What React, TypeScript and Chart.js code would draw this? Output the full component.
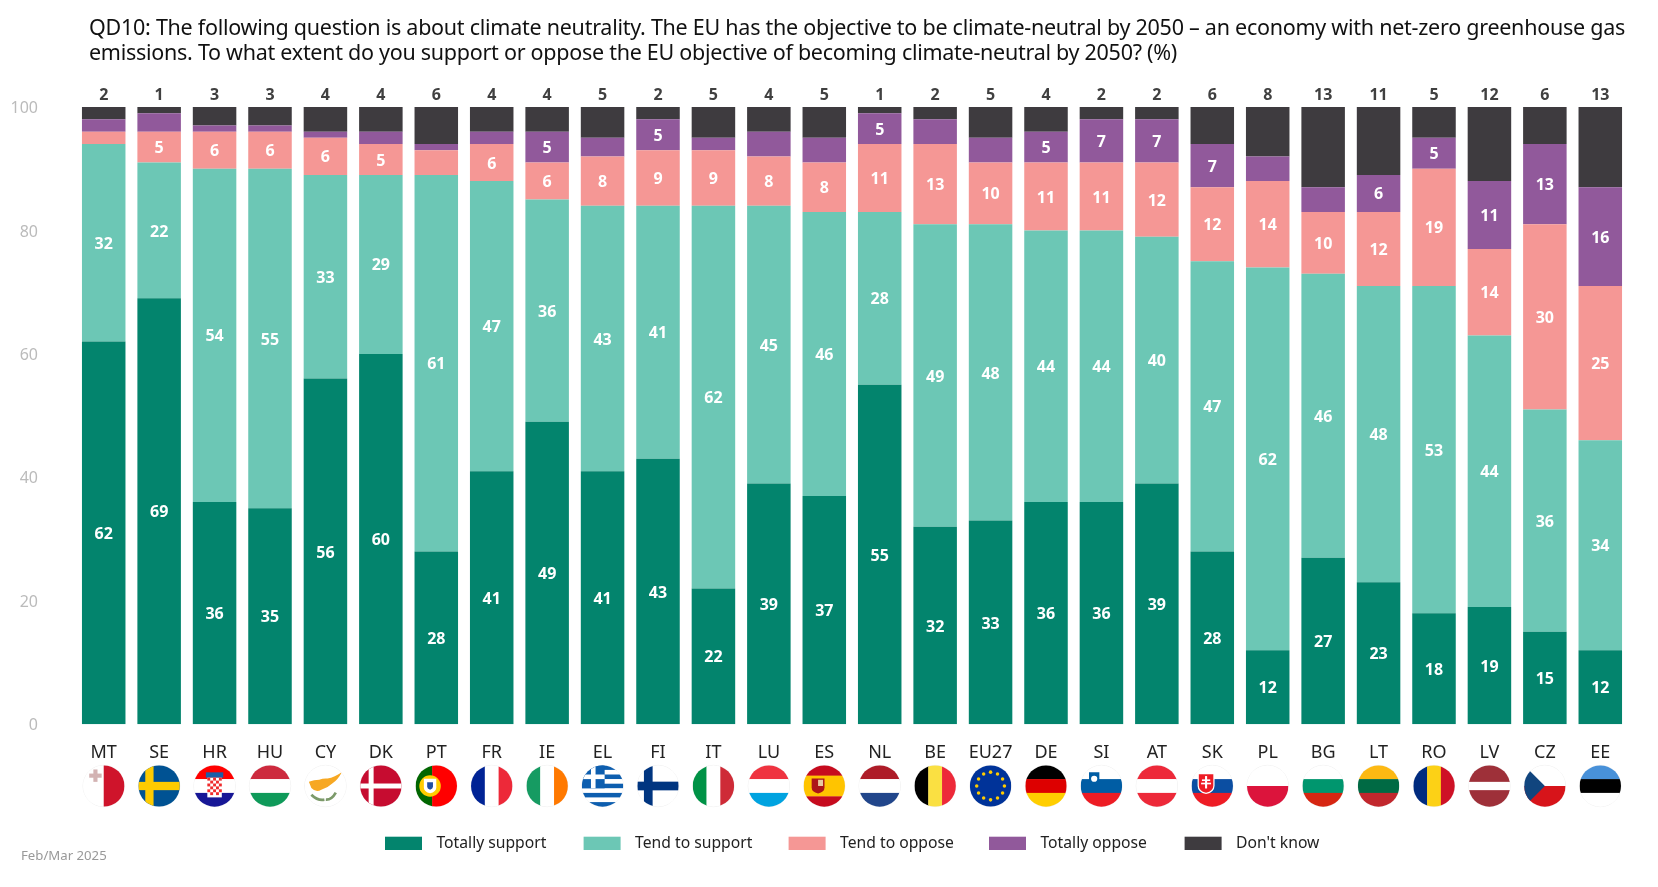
import React, { useEffect, useRef } from "react";
import { Chart, registerables } from "chart.js";

Chart.register(...registerables);

const countries = ["MT","SE","HR","HU","CY","DK","PT","FR","IE","EL","FI","IT","LU","ES","NL","BE","EU27","DE","SI","AT","SK","PL","BG","LT","RO","LV","CZ","EE"];
const totallySupport = [62,69,36,35,56,60,28,41,49,41,43,22,39,37,55,32,33,36,36,39,28,12,27,23,18,19,15,12];
const tendToSupport = [32,22,54,55,33,29,61,47,36,43,41,62,45,46,28,49,48,44,44,40,47,62,46,48,53,44,36,34];
const tendToOppose = [2,5,6,6,6,5,4,6,6,8,9,9,8,8,11,13,10,11,11,12,12,14,10,12,19,14,30,25];
const totallyOppose = [2,3,1,1,1,2,1,2,5,3,5,2,4,4,5,4,4,5,7,7,7,4,4,6,5,11,13,16];
const dontKnow = [2,1,3,3,4,4,6,4,4,5,2,5,4,5,1,2,5,4,2,2,6,8,13,11,5,12,6,13];
const seriesNames = ["Totally support","Tend to support","Tend to oppose","Totally oppose","Don't know"];
const seriesColors = ["#03846d","#6cc7b5","#f59795","#91599b","#3e3b3f"];
const yTicks = [0,20,40,60,80,100];
const titleLines = [
  "QD10: The following question is about climate neutrality. The EU has the objective to be climate-neutral by 2050 \u2013 an economy with net-zero greenhouse gas",
  "emissions. To what extent do you support or oppose the EU objective of becoming climate-neutral by 2050? (%)",
];
const footnote = "Feb/Mar 2025";
const legendSwatchLefts = [385, 583.6, 788.6, 989, 1184.6];

const FONT = '"Noto Sans"';

type Ctx = CanvasRenderingContext2D;

function hs(c: Ctx, x: number, y: number, r: number, colors: string[], weights?: number[]) {
  const w = weights || colors.map(() => 1);
  const total = w.reduce((a, b) => a + b, 0);
  let t = y - r;
  colors.forEach((col, i) => {
    const h = (2 * r * w[i]) / total;
    c.fillStyle = col;
    c.fillRect(x - r, t, 2 * r, h + 0.3);
    t += h;
  });
}
function vs(c: Ctx, x: number, y: number, r: number, colors: string[], weights?: number[]) {
  const w = weights || colors.map(() => 1);
  const total = w.reduce((a, b) => a + b, 0);
  let t = x - r;
  colors.forEach((col, i) => {
    const h = (2 * r * w[i]) / total;
    c.fillStyle = col;
    c.fillRect(t, y - r, h + 0.3, 2 * r);
    t += h;
  });
}
function nordic(c: Ctx, x: number, y: number, r: number, bg: string, cross: string, th: number) {
  c.fillStyle = bg;
  c.fillRect(x - r, y - r, 2 * r, 2 * r);
  c.fillStyle = cross;
  c.fillRect(x - r, y - th / 2, 2 * r, th);
  c.fillRect(x - r * 0.47 - th / 2, y - r, th, 2 * r);
}
function shield(c: Ctx, x: number, y: number, w: number, h: number, fill: string) {
  c.fillStyle = fill;
  c.beginPath();
  c.moveTo(x - w / 2, y - h / 2);
  c.lineTo(x + w / 2, y - h / 2);
  c.lineTo(x + w / 2, y + h * 0.1);
  c.quadraticCurveTo(x + w / 2, y + h * 0.4, x, y + h / 2);
  c.quadraticCurveTo(x - w / 2, y + h * 0.4, x - w / 2, y + h * 0.1);
  c.closePath();
  c.fill();
}

const flagPainters: Record<string, (c: Ctx, x: number, y: number, r: number) => void> = {
  MT(c, x, y, r) {
    vs(c, x, y, r, ["#ffffff", "#cf142b"]);
    c.fillStyle = "#d3b3b3";
    c.fillRect(x - r * 0.7, y - r * 0.6, r * 0.6, r * 0.2);
    c.fillRect(x - r * 0.5, y - r * 0.8, r * 0.2, r * 0.6);
  },
  SE(c, x, y, r) { nordic(c, x, y, r, "#005293", "#fecb00", r * 0.4); },
  HR(c, x, y, r) {
    hs(c, x, y, r, ["#ff0000", "#ffffff", "#171796"]);
    c.fillStyle = "#1a5ea8";
    c.fillRect(x - r * 0.42, y - r * 0.66, r * 0.84, r * 0.26);
    c.fillStyle = "#ffffff";
    c.fillRect(x - r * 0.35, y - r * 0.4, r * 0.7, r * 0.95);
    c.fillStyle = "#ef2b2d";
    const s = r * 0.14;
    for (let a = 0; a < 5; a++) for (let b = 0; b < 6; b++) {
      if ((a + b) % 2 === 0 && !(b === 5 && (a === 0 || a === 4))) c.fillRect(x - r * 0.35 + a * s, y - r * 0.4 + b * s, s, s);
    }
  },
  HU(c, x, y, r) { hs(c, x, y, r, ["#cd2a3e", "#ffffff", "#0f9a5a"]); },
  CY(c, x, y, r) {
    c.fillStyle = "#ffffff";
    c.fillRect(x - r, y - r, 2 * r, 2 * r);
    c.fillStyle = "#f7a823";
    c.beginPath();
    c.moveTo(x - r * 0.8, y - r * 0.2);
    c.quadraticCurveTo(x - r * 0.55, y - r * 0.3, x - r * 0.3, y - r * 0.3);
    c.quadraticCurveTo(x - r * 0.1, y - r * 0.38, x + r * 0.1, y - r * 0.36);
    c.quadraticCurveTo(x + r * 0.45, y - r * 0.42, x + r * 0.8, y - r * 0.68);
    c.quadraticCurveTo(x + r * 0.6, y - r * 0.3, x + r * 0.33, y - r * 0.12);
    c.quadraticCurveTo(x + r * 0.1, y + r * 0.1, x - r * 0.2, y + r * 0.18);
    c.quadraticCurveTo(x - r * 0.45, y + r * 0.34, x - r * 0.68, y + r * 0.1);
    c.closePath();
    c.fill();
    c.strokeStyle = "#7c9a6a";
    c.lineWidth = r * 0.13;
    c.beginPath();
    c.moveTo(x - r * 0.68, y + r * 0.42);
    c.quadraticCurveTo(x - r * 0.38, y + r * 0.72, x - r * 0.05, y + r * 0.66);
    c.moveTo(x + r * 0.5, y + r * 0.32);
    c.quadraticCurveTo(x + r * 0.3, y + r * 0.68, x + r * 0.02, y + r * 0.66);
    c.stroke();
  },
  DK(c, x, y, r) { nordic(c, x, y, r, "#c60c30", "#ffffff", r * 0.24); },
  PT(c, x, y, r) {
    vs(c, x, y, r, ["#006600", "#ff0000"], [4, 6]);
    c.fillStyle = "#ffcc00";
    c.beginPath(); c.arc(x - r * 0.3, y, r * 0.52, 0, Math.PI * 2); c.fill();
    shield(c, x - r * 0.3, y, r * 0.6, r * 0.7, "#ffffff");
    shield(c, x - r * 0.3, y, r * 0.28, r * 0.36, "#1f4ea1");
  },
  FR(c, x, y, r) { vs(c, x, y, r, ["#002395", "#ffffff", "#ed2939"]); },
  IE(c, x, y, r) { vs(c, x, y, r, ["#169b62", "#ffffff", "#ff7900"]); },
  EL(c, x, y, r) {
    hs(c, x, y, r, ["#0d5eaf", "#ffffff", "#0d5eaf", "#ffffff", "#0d5eaf", "#ffffff", "#0d5eaf", "#ffffff", "#0d5eaf"]);
    const t = 2 * r / 9;
    c.fillStyle = "#0d5eaf";
    c.fillRect(x - r, y - r, r * 1.1, t * 5);
    c.fillStyle = "#ffffff";
    c.fillRect(x - r, y - r + 2 * t, r * 1.1, t);
    c.fillRect(x - r + 0.55 * r - t / 2, y - r, t, t * 5);
  },
  FI(c, x, y, r) { nordic(c, x, y, r, "#ffffff", "#003580", r * 0.42); },
  IT(c, x, y, r) { vs(c, x, y, r, ["#009246", "#ffffff", "#ce2b37"]); },
  LU(c, x, y, r) { hs(c, x, y, r, ["#ef3340", "#ffffff", "#00a3e0"]); },
  ES(c, x, y, r) {
    hs(c, x, y, r, ["#c60b1e", "#ffc400", "#c60b1e"], [1, 2, 1]);
    shield(c, x - r * 0.3, y, r * 0.62, r * 0.72, "#ad1519");
    c.fillStyle = "#e8c9a0";
    c.fillRect(x - r * 0.3, y - r * 0.3, r * 0.24, r * 0.3);
  },
  NL(c, x, y, r) { hs(c, x, y, r, ["#ae1c28", "#ffffff", "#21468b"]); },
  BE(c, x, y, r) { vs(c, x, y, r, ["#000000", "#fae042", "#ed2939"]); },
  EU27(c, x, y, r) {
    c.fillStyle = "#003399";
    c.fillRect(x - r, y - r, 2 * r, 2 * r);
    c.fillStyle = "#ffcc00";
    for (let i = 0; i < 12; i++) {
      const a = (i * Math.PI) / 6;
      c.beginPath();
      c.arc(x + Math.cos(a) * r * 0.67, y + Math.sin(a) * r * 0.67, r * 0.085, 0, Math.PI * 2);
      c.fill();
    }
  },
  DE(c, x, y, r) { hs(c, x, y, r, ["#000000", "#dd0000", "#ffce00"]); },
  SI(c, x, y, r) {
    hs(c, x, y, r, ["#ffffff", "#005da4", "#ed1c24"]);
    shield(c, x - r * 0.35, y - r * 0.35, r * 0.5, r * 0.62, "#005da4");
    c.fillStyle = "#ffffff";
    c.beginPath(); c.arc(x - r * 0.35, y - r * 0.35, r * 0.15, 0, Math.PI * 2); c.fill();
  },
  AT(c, x, y, r) { hs(c, x, y, r, ["#ed2939", "#ffffff", "#ed2939"]); },
  SK(c, x, y, r) {
    hs(c, x, y, r, ["#ffffff", "#0b4ea2", "#ee1c25"]);
    shield(c, x - r * 0.3, y - r * 0.12, r * 0.82, r * 1.02, "#ffffff");
    shield(c, x - r * 0.3, y - r * 0.12, r * 0.7, r * 0.9, "#ee1c25");
    c.fillStyle = "#ffffff";
    c.fillRect(x - r * 0.35, y - r * 0.48, r * 0.1, r * 0.6);
    c.fillRect(x - r * 0.5, y - r * 0.32, r * 0.4, r * 0.08);
    c.fillRect(x - r * 0.54, y - r * 0.16, r * 0.48, r * 0.08);
  },
  PL(c, x, y, r) { hs(c, x, y, r, ["#ffffff", "#dc143c"]); },
  BG(c, x, y, r) { hs(c, x, y, r, ["#ffffff", "#00966e", "#d62612"]); },
  LT(c, x, y, r) { hs(c, x, y, r, ["#fdb913", "#006a44", "#c1272d"]); },
  RO(c, x, y, r) { vs(c, x, y, r, ["#002b7f", "#fcd116", "#ce1126"]); },
  LV(c, x, y, r) { hs(c, x, y, r, ["#9e3039", "#ffffff", "#9e3039"], [2, 1, 2]); },
  CZ(c, x, y, r) {
    hs(c, x, y, r, ["#ffffff", "#d7141a"]);
    c.fillStyle = "#11457e";
    c.beginPath();
    c.moveTo(x - r, y - r);
    c.lineTo(x, y);
    c.lineTo(x - r, y + r);
    c.closePath();
    c.fill();
  },
  EE(c, x, y, r) { hs(c, x, y, r, ["#4891d9", "#000000", "#ffffff"]); },
};

function fitText(c: any, text: string, x: number, y: number, width: number) {
  c.letterSpacing = "0px";
  const natural = c.measureText(text).width;
  c.letterSpacing = `${(width - natural) / text.length}px`;
  c.fillText(text, x, y);
  c.letterSpacing = "0px";
}

const annotationPlugin = {
  id: "annotations",
  afterDatasetsDraw(chart: any) {
    const c: Ctx = chart.ctx;
    c.save();
    c.textAlign = "center";
    c.textBaseline = "middle";
    c.font = `700 16px ${FONT}`;
    chart.data.datasets.forEach((ds: any, di: number) => {
      const meta = chart.getDatasetMeta(di);
      meta.data.forEach((bar: any, i: number) => {
        const v = ds.data[i];
        if (di === 4) {
          c.fillStyle = "#404040";
          c.fillText(String(v), bar.x, chart.chartArea.top - 11.5);
        } else if (v >= 5) {
          c.fillStyle = "#ffffff";
          c.fillText(String(v), bar.x, (bar.y + bar.base) / 2 + 1.5);
        }
      });
    });
    c.restore();
  },
  afterDraw(chart: any) {
    const c: Ctx = chart.ctx;
    const xs = chart.scales.x;
    const r = 20.7;
    const cy = 786;
    countries.forEach((code, i) => {
      const x = xs.getPixelForValue(i);
      c.save();
      c.beginPath();
      c.arc(x, cy, r, 0, Math.PI * 2);
      c.strokeStyle = "#f1f1f1";
      c.lineWidth = 1;
      c.stroke();
      c.clip();
      flagPainters[code](c, x, cy, r);
      c.restore();
    });
    c.save();
    c.textBaseline = "middle";
    c.textAlign = "left";
    c.fillStyle = "#111111";
    c.font = `21.5px ${FONT}`;
    fitText(c, titleLines[0], 89, 28.8, 1536);
    fitText(c, titleLines[1], 89, 53.8, 1088);
    c.font = `15.7px ${FONT}`;
    seriesNames.forEach((name, i) => {
      const lx = legendSwatchLefts[i];
      c.fillStyle = seriesColors[i];
      c.fillRect(lx, 836.7, 37, 13.3);
      c.fillStyle = "#222222";
      c.fillText(name, lx + 51.5, 844);
    });
    c.font = `13.2px ${FONT}`;
    c.fillStyle = "#999999";
    c.fillText(footnote, 21, 856);
    c.restore();
  },
};

export default function App() {
  const ref = useRef<HTMLCanvasElement>(null);
  useEffect(() => {
    document.body.style.margin = "0";
    document.body.style.background = "#ffffff";
    const seriesData = [totallySupport, tendToSupport, tendToOppose, totallyOppose, dontKnow];
    const chart = new Chart(ref.current!, {
      type: "bar",
      data: {
        labels: countries,
        datasets: seriesNames.map((name, i) => ({
          label: name,
          data: seriesData[i],
          backgroundColor: seriesColors[i],
          barPercentage: 0.785,
          categoryPercentage: 1,
          borderWidth: 0,
        })),
      },
      options: {
        responsive: false,
        animation: false,
        devicePixelRatio: 1,
        layout: { padding: { left: 0, right: 30, top: 107, bottom: 0 } },
        plugins: {
          legend: { display: false },
          tooltip: { enabled: false },
          title: { display: false },
        },
        scales: {
          x: {
            stacked: true,
            grid: { display: false, drawTicks: false },
            border: { display: false },
            ticks: {
              autoSkip: false,
              maxRotation: 0,
              minRotation: 0,
              padding: 18,
              color: "#222222",
              font: { family: FONT, size: 18 },
            },
            afterFit: (s: any) => { s.height = 162.7; },
          },
          y: {
            stacked: true,
            min: 0,
            max: 100,
            afterBuildTicks: (s: any) => { s.ticks = yTicks.map((value) => ({ value })); },
            grid: { display: false, drawTicks: false },
            border: { display: false },
            ticks: {
              padding: 38,
              labelOffset: 1.5,
              color: "#bbbbbb",
              font: { family: FONT, size: 16 },
            },
            afterFit: (s: any) => { s.width = 76; },
          },
        },
      } as any,
      plugins: [annotationPlugin],
    });
    return () => chart.destroy();
  }, []);
  return <canvas ref={ref} width={1658} height={887} style={{ display: "block" }} />;
}
